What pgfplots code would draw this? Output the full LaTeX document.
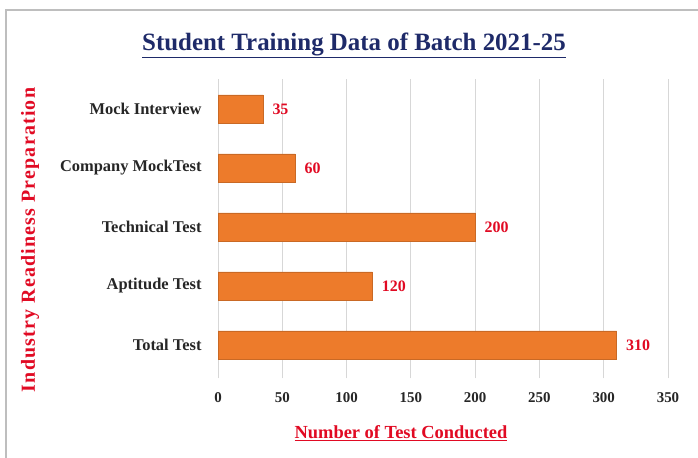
\documentclass[border=0pt]{standalone}
\usepackage{pgfplots}
\pgfplotsset{compat=1.18}
\usepackage{fontspec}
\setmainfont{Liberation Serif}
\definecolor{barorange}{RGB}{237,123,43}
\definecolor{titlenavy}{RGB}{30,42,105}
\definecolor{labred}{RGB}{225,10,35}
\definecolor{gridgray}{RGB}{215,215,215}
\definecolor{framegray}{RGB}{190,190,190}
\begin{document}
\begin{tikzpicture}[x=1bp,y=1bp]
\path[use as bounding box] (0,0) rectangle (698,458);
\fill[white] (0,0) rectangle (698,458);
\draw[framegray, line width=2.2bp] (6,0) -- (6,448) -- (698,448);
\begin{axis}[
  at={(218bp,83.5bp)}, anchor=south west,
  scale only axis,
  width=450bp, height=295bp,
  xmin=0, xmax=350, ymin=-0.5, ymax=4.5,
  xtick={0,50,...,350},
  ytick={0,1,2,3,4},
  yticklabels={Total Test,Aptitude Test,Technical Test,Company MockTest,Mock Interview},
  axis lines*=left,
  x axis line style={draw=none},
  y axis line style={draw=gridgray, line width=1bp},
  xmajorgrids,
  grid style={gridgray, line width=0.9bp},
  major x tick style={draw=gridgray, line width=0.9bp},
  major y tick style={draw=none},
  tick align=outside,
  major tick length=4bp,
  /pgf/number format/assume math mode=true,
  xticklabel style={font=\fontsize{15}{18}\selectfont\bfseries, text=black!85, yshift=-11bp},
  yticklabel style={font=\fontsize{16.5}{18}\selectfont\bfseries, text=black!85, xshift=-9bp},
  nodes near coords,
  nodes near coords style={font=\fontsize{16}{18}\selectfont\bfseries, text=labred, anchor=west, xshift=6bp},
  point meta=x,
]
\addplot[xbar, bar width=28bp, fill=barorange, draw=barorange!85!black, line width=0.4bp]
  coordinates {(310,0) (120,1) (200,2) (60,3) (35,4)};
\end{axis}
\node[text=titlenavy, font=\fontsize{25}{30}\selectfont\bfseries] at (354,413) {\underline{Student Training Data of Batch 2021-25}};
\node[text=labred, font=\fontsize{20}{22}\selectfont\bfseries\addfontfeature{LetterSpace=6}, rotate=90] at (30,218) {Industry Readiness Preparation};
\node[text=labred, font=\fontsize{18.5}{22}\selectfont\bfseries] at (401,25) {\underline{Number of Test Conducted}};
\end{tikzpicture}
\end{document}
